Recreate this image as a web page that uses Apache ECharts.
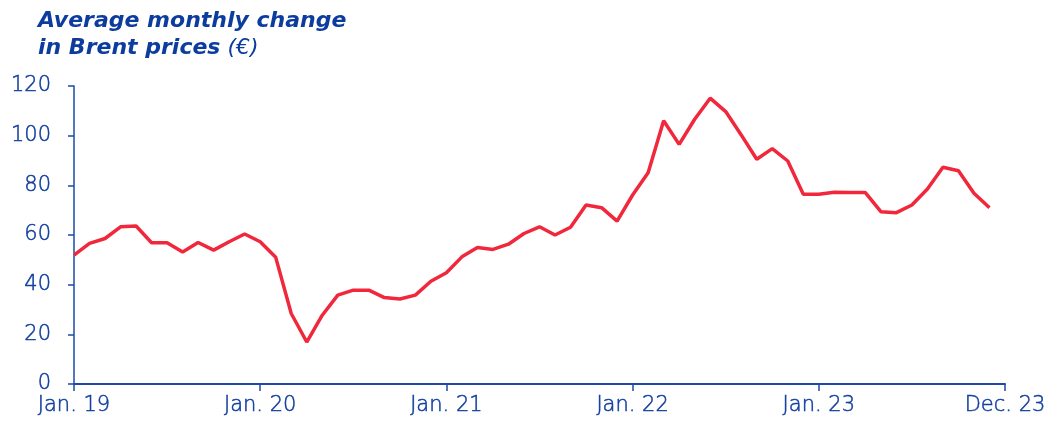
<!DOCTYPE html>
<html>
<head>
<meta charset="utf-8">
<script src="https://cdn.jsdelivr.net/npm/echarts@6/dist/echarts.min.js"></script>
<style>
  html, body { margin: 0; padding: 0; background: #fff; }
  #main { width: 1049px; height: 428px; }
</style>
</head>
<body>
<div id="main"></div>
<script>
// Brent, monthly average, Jan. 19 .. Dec. 23 (index = month number from Jan. 19)
var brent = [
    51.9, 56.6, 58.6, 63.3, 63.6, 56.9, 56.9, 53.2, 57.0, 53.9, 57.3, 60.4,
    57.3, 51.0, 28.4, 16.9, 27.7, 35.8, 37.8, 37.8, 34.8, 34.2, 35.8, 41.4,
    44.8, 51.2, 55.0, 54.2, 56.3, 60.6, 63.3, 60.0, 63.1, 72.1, 71.0, 65.6,
    76.1, 85.1, 106.0, 96.5, 106.6, 115.1, 109.7, 100.3, 90.5, 94.8, 89.8, 76.4,
    76.4, 77.2, 77.1, 77.1, 69.4, 69.0, 72.1, 78.5, 87.3, 85.9, 76.8, 71.0
];
var tickLabels = ['Jan. 19', 'Jan. 20', 'Jan. 21', 'Jan. 22', 'Jan. 23', 'Dec. 23'];

var points = [];
for (var i = 0; i < brent.length; i++) {
    points.push([i, brent[i]]);
}

var blue = '#1d4aa7';
var textBlue = '#123f9f';
var myChart = echarts.init(document.getElementById('main'));
var option = {
    animation: false,
    title: {
        text: '{b|Average monthly change}\n{b|in Brent prices}{n| (€)}',
        left: 33,
        top: 3,
        textStyle: {
            rich: {
                b: {
                    fontFamily: 'DejaVu Sans',
                    fontStyle: 'italic',
                    fontWeight: 'bold',
                    fontSize: 22,
                    color: '#0c3d9e',
                    lineHeight: 27
                },
                n: {
                    fontFamily: 'DejaVu Sans',
                    fontStyle: 'italic',
                    fontWeight: 200,
                    fontSize: 22,
                    color: '#0c3d9e',
                    lineHeight: 27
                }
            }
        }
    },
    grid: {
        left: 74,
        right: 44,
        top: 86,
        bottom: 44
    },
    xAxis: {
        type: 'value',
        min: 0,
        max: 60,
        interval: 12,
        splitLine: { show: false },
        axisLine: { lineStyle: { color: blue, width: 2 } },
        axisTick: { show: true, length: 7, lineStyle: { color: blue, width: 1.5 } },
        axisLabel: {
            color: textBlue,
            textBorderColor: textBlue,
            textBorderWidth: 0.5,
            fontFamily: 'DejaVu Sans',
            fontWeight: 200,
            fontSize: 21,
            margin: 11,
            formatter: function (v) { return tickLabels[v / 12]; }
        }
    },
    yAxis: {
        type: 'value',
        min: 0,
        max: 120,
        interval: 20,
        splitLine: { show: false },
        axisLine: { show: true, lineStyle: { color: blue, width: 1.5 } },
        axisTick: { show: true, length: 6, lineStyle: { color: blue, width: 1.5 } },
        axisLabel: {
            color: textBlue,
            textBorderColor: textBlue,
            textBorderWidth: 0.5,
            fontFamily: 'DejaVu Sans',
            fontWeight: 200,
            fontSize: 21,
            margin: 23
        }
    },
    series: [{
        type: 'line',
        data: points,
        showSymbol: false,
        lineStyle: { color: '#f1283c', width: 3.5 }
    }]
};
myChart.setOption(option);
</script>
</body>
</html>
